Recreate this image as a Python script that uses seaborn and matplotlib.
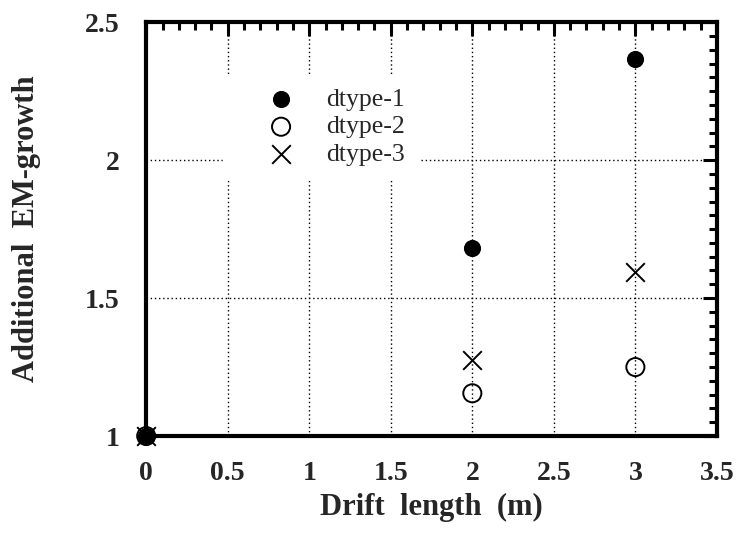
import matplotlib
matplotlib.use("Agg")
import matplotlib.pyplot as plt
import seaborn as sns
import pandas as pd
from matplotlib.ticker import MultipleLocator, FuncFormatter

sns.set_style("white")
plt.rcParams['font.family'] = ['Liberation Serif', 'DejaVu Serif']

drift = [0, 2, 3]
dtype1 = [1.0, 1.68, 2.365]
dtype2 = [1.0, 1.155, 1.25]
dtype3 = [1.0, 1.275, 1.595]
labels = ["dtype-1", "dtype-2", "dtype-3"]

fig = plt.figure(figsize=(7.46, 5.41), dpi=100)
ax = fig.add_axes([0.196, 0.194, 0.765, 0.765])

d1 = pd.DataFrame({"x": drift, "y": dtype1})
d2 = pd.DataFrame({"x": drift, "y": dtype2})
d3 = pd.DataFrame({"x": drift, "y": dtype3})

sns.scatterplot(data=d1, x="x", y="y", ax=ax, marker="o", s=130, color="black",
                edgecolor="black", label=labels[0], zorder=5, clip_on=False)
sns.scatterplot(data=d2, x="x", y="y", ax=ax, marker="o", s=170, facecolor="none",
                edgecolor="black", linewidth=1.4, label=labels[1], zorder=5, clip_on=False)
sns.scatterplot(data=d3, x="x", y="y", ax=ax, marker="x", s=180, color="black",
                linewidth=1.4, label=labels[2], zorder=5, clip_on=False)

ax.set_xlim(0, 3.5)
ax.set_ylim(1, 2.5)
ax.xaxis.set_major_locator(MultipleLocator(0.5))
ax.xaxis.set_minor_locator(MultipleLocator(0.1))
ax.yaxis.set_major_locator(MultipleLocator(0.5))
ax.yaxis.set_minor_locator(MultipleLocator(0.05))
ax.xaxis.set_major_formatter(FuncFormatter(lambda v, p: f"{v:g}"))
ax.yaxis.set_major_formatter(FuncFormatter(lambda v, p: f"{v:g}"))

ax.grid(True, which="major", linestyle=(0, (1, 2)), color="black", linewidth=1.0)
ax.tick_params(which="both", direction="in", top=True, right=True, color="black")
ax.tick_params(axis="x", which="major", length=10, width=2.2, labelsize=20, pad=18)
ax.tick_params(axis="y", which="major", length=10, width=2.2, labelsize=20, pad=19)
ax.tick_params(which="minor", length=6, width=2.2)
for lab in ax.get_xticklabels() + ax.get_yticklabels():
    lab.set_fontweight("bold")
for sp in ax.spines.values():
    sp.set_linewidth(3)
    sp.set_color("black")

ax.set_xlabel("Drift  length  (m)", fontsize=22, fontweight="bold", labelpad=5)
ax.set_ylabel("Additional  EM-growth", fontsize=22, fontweight="bold", labelpad=32)

leg = ax.legend(loc="upper left", bbox_to_anchor=(0.135, 0.872), frameon=True,
                fontsize=18.5, handlelength=3.5, handletextpad=0.0,
                labelspacing=0.175, borderpad=0.5, borderaxespad=0)
leg.get_frame().set_edgecolor("white")
leg.get_frame().set_facecolor("white")
leg.get_frame().set_alpha(1)
leg.get_frame().set_boxstyle("square", pad=0)
leg.set_zorder(10)

fig.savefig("out.png", dpi=100)
